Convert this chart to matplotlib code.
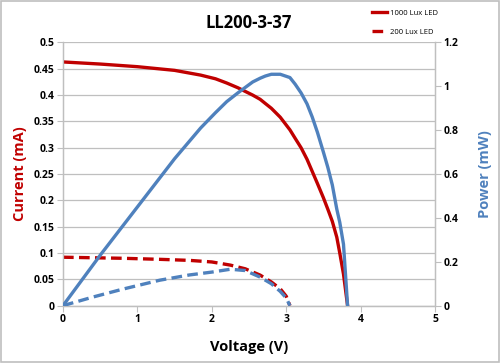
import matplotlib
matplotlib.use("Agg")
import matplotlib.pyplot as plt
from matplotlib.lines import Line2D

# 1000 Lux LED
v_1000 = [0, 0.5, 1.0, 1.5, 1.85, 2.05, 2.2, 2.35, 2.45, 2.55, 2.65, 2.72, 2.8, 2.92, 3.05, 3.12, 3.2, 3.28, 3.35, 3.42, 3.5, 3.56, 3.62, 3.68, 3.72, 3.77, 3.825]
i_1000 = [0.463, 0.459, 0.454, 0.447, 0.438, 0.431, 0.423, 0.414, 0.407, 0.400, 0.392, 0.384, 0.375, 0.358, 0.334, 0.318, 0.300, 0.278, 0.255, 0.232, 0.205, 0.183, 0.160, 0.130, 0.100, 0.060, 0.0]
p_1000 = [0, 0.23, 0.45, 0.67, 0.81, 0.88, 0.93, 0.97, 0.995, 1.02, 1.037, 1.047, 1.055, 1.055, 1.04, 1.01, 0.97, 0.92, 0.86, 0.79, 0.70, 0.63, 0.55, 0.44, 0.38, 0.28, 0.0]

# 200 Lux LED
v_200 = [0, 0.4, 0.8, 1.3, 1.7, 2.0, 2.25, 2.45, 2.65, 2.8, 2.92, 3.0, 3.05]
i_200 = [0.092, 0.091, 0.090, 0.088, 0.086, 0.083, 0.077, 0.070, 0.058, 0.045, 0.032, 0.018, 0.0]
p_200 = [0, 0.039, 0.075, 0.116, 0.140, 0.153, 0.166, 0.160, 0.130, 0.100, 0.065, 0.035, 0.0]

x_ticks = [0, 1, 2, 3, 4, 5]
left_ticks = [0, 0.05, 0.1, 0.15, 0.2, 0.25, 0.3, 0.35, 0.4, 0.45, 0.5]
left_labels = ["0", "0.05", "0.1", "0.15", "0.2", "0.25", "0.3", "0.35", "0.4", "0.45", "0.5"]
right_ticks = [0, 0.2, 0.4, 0.6, 0.8, 1.0, 1.2]
right_labels = ["0", "0.2", "0.4", "0.6", "0.8", "1", "1.2"]

RED = "#C00000"
BLUE = "#4F81BD"
GRID = "#BFBFBF"
FONT = "Open Sans"

plt.rcParams['font.family'] = [FONT, 'DejaVu Sans']

fig = plt.figure(figsize=(5.0, 3.63), dpi=100)
fig.patches.append(plt.Rectangle((0.002, 0.003), 0.995, 0.993, transform=fig.transFigure,
                                 fill=False, edgecolor="#BFBFBF", linewidth=1.2))

ax = fig.add_axes([0.126, 0.158, 0.744, 0.725])
ax2 = ax.twinx()

dash = (0, (3.2, 1.6))
lw = 2.4
ax.plot(v_1000, i_1000, color=RED, lw=lw, solid_joinstyle='round', zorder=3)
ax.plot(v_200, i_200, color=RED, lw=lw, linestyle=dash, zorder=3)
ax2.plot(v_1000, p_1000, color=BLUE, lw=lw, solid_joinstyle='round', zorder=3)
ax2.plot(v_200, p_200, color=BLUE, lw=lw, linestyle=dash, zorder=3)

ax.set_xlim(0, 5)
ax.set_ylim(0, 0.5)
ax2.set_ylim(0, 1.2)

ax.set_xticks(x_ticks)
ax.set_xticklabels([str(t) for t in x_ticks], fontsize=7.5, fontweight='bold')
ax.set_yticks(left_ticks)
ax.set_yticklabels(left_labels, fontsize=7.5, fontweight='bold')
ax2.set_yticks(right_ticks)
ax2.set_yticklabels(right_labels, fontsize=7.5, fontweight='bold')

ax.grid(axis='y', color=GRID, linewidth=0.9)
ax.set_axisbelow(True)

for a in (ax, ax2):
    a.spines['top'].set_visible(False)
    for s in ('left', 'right', 'bottom'):
        a.spines[s].set_color(GRID)
        a.spines[s].set_linewidth(0.9)
    a.tick_params(length=4, width=0.8, color=GRID, pad=2)

ax.set_xlabel("Voltage (V)", fontsize=10.5, fontweight='bold', labelpad=11)
ax.set_ylabel("Current (mA)", fontsize=10.5, fontweight='bold', color=RED, labelpad=5)
ax2.set_ylabel("Power (mW)", fontsize=10.5, fontweight='bold', color=BLUE, labelpad=14)

fig.text(0.497, 0.938, "LL200-3-37", ha='center', va='center', fontsize=12, fontweight='bold')

handles = [Line2D([], [], color=RED, lw=lw),
           Line2D([], [], color=RED, lw=lw, linestyle=dash)]
leg = fig.legend(handles, ["1000 Lux LED", "200 Lux LED"], loc='upper left',
                 bbox_to_anchor=(0.738, 0.983), frameon=False, fontsize=5.5,
                 handlelength=2.0, handletextpad=0.35, labelspacing=1.6, borderaxespad=0)

fig.savefig("out.png", dpi=100)
